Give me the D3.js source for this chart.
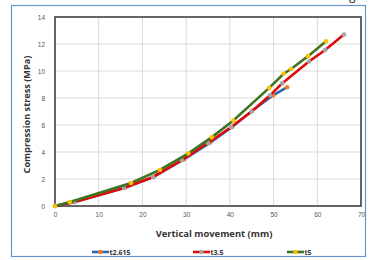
<!DOCTYPE html>
<html lang="en">
<head>
  <meta charset="UTF-8">
  <title>Compression stress vs vertical movement</title>
  <script src="https://d3js.org/d3.v7.min.js"></script>
  <style>
    body { margin: 0; background: #fff; }
    svg { display: block; font-family: "Open Sans", "Liberation Sans", sans-serif; }
  </style>
</head>
<body>
<script>
  // data
  var seriesNames = ["t2.615", "t3.5", "t5"];
  var xT2615 = [0, 4.5, 16, 22.5, 29.5, 35.5, 40.5, 45.1, 49.9, 53.1];
  var yT2615 = [0, 0.3, 1.35, 2.15, 3.45, 4.7, 5.85, 7.05, 8.2, 8.8];
  var xT35 = [0, 4.5, 15.8, 22.4, 29, 35, 40.3, 45, 49.2, 52, 58.1, 61.8, 66.1];
  var yT35 = [0, 0.3, 1.33, 2.15, 3.4, 4.67, 5.85, 7.0, 8.2, 9.1, 10.7, 11.55, 12.7];
  var xT5 = [0, 3.4, 17.4, 24, 30.5, 35.9, 40.8, 49, 52.3, 54, 57.9, 62];
  var yT5 = [0, 0.3, 1.7, 2.67, 3.9, 5.1, 6.33, 8.75, 9.8, 10.15, 11.1, 12.2];
  var xTicks = [0, 10, 20, 30, 40, 50, 60, 70];
  var yTicks = [0, 2, 4, 6, 8, 10, 12, 14];

  var lineColors = ["#2e68ad", "#e00a0a", "#3f7420"];
  var markColors = ["#ed7d31", "#a5a5a5", "#ffc000"];

  var series = [
    { name: seriesNames[0], pts: d3.zip(xT2615, yT2615) },
    { name: seriesNames[1], pts: d3.zip(xT35, yT35) },
    { name: seriesNames[2], pts: d3.zip(xT5, yT5) }
  ];

  var W = 374, H = 260;
  var svg = d3.select("body").append("svg").attr("width", W).attr("height", H);

  // outer frame
  svg.append("rect")
    .attr("x", 11.5).attr("y", 5.5).attr("width", 354).attr("height", 251)
    .attr("fill", "none").attr("stroke", "#6a96c8").attr("stroke-width", 1.2);

  // cut-off letter at top right
  svg.append("text").attr("x", 349).attr("y", 0)
    .attr("font-size", 12).attr("fill", "#222").text("g");

  var pL = 55, pR = 361, pT = 17, pB = 206;
  var x = d3.scaleLinear().domain([0, 70]).range([pL, pR]);
  var y = d3.scaleLinear().domain([0, 14]).range([pB, pT]);

  // grid
  svg.append("g").selectAll("line").data(xTicks.slice(1, -1)).enter().append("line")
    .attr("x1", d => x(d)).attr("x2", d => x(d)).attr("y1", pT).attr("y2", pB)
    .attr("stroke", "#d9d9d9").attr("stroke-width", 1);
  svg.append("g").selectAll("line").data(yTicks.slice(1, -1)).enter().append("line")
    .attr("x1", pL).attr("x2", pR).attr("y1", d => y(d)).attr("y2", d => y(d))
    .attr("stroke", "#d9d9d9").attr("stroke-width", 1);

  // axes
  var xAxis = svg.append("g").attr("transform", "translate(0," + pB + ")")
    .call(d3.axisBottom(x).tickValues(xTicks).tickSize(0).tickPadding(6));
  var yAxis = svg.append("g").attr("transform", "translate(" + pL + ",0)")
    .call(d3.axisLeft(y).tickValues(yTicks).tickSize(0).tickPadding(10));
  [xAxis, yAxis].forEach(function(a) {
    a.select(".domain").remove();
    a.selectAll("text").attr("font-size", 6.5).attr("fill", "#555");
  });

  // plot border
  svg.append("rect")
    .attr("x", pL).attr("y", pT).attr("width", pR - pL).attr("height", pB - pT)
    .attr("fill", "none").attr("stroke", "#333").attr("stroke-width", 1.5);

  // series
  var line = d3.line().x(d => x(d[0])).y(d => y(d[1]));
  series.forEach(function(s, i) {
    svg.append("path").datum(s.pts)
      .attr("d", line).attr("fill", "none")
      .attr("stroke", lineColors[i]).attr("stroke-width", 2.6);
    svg.append("g").selectAll("circle").data(s.pts).enter().append("circle")
      .attr("cx", d => x(d[0])).attr("cy", d => y(d[1])).attr("r", 2.3)
      .attr("fill", markColors[i]);
  });

  // axis titles
  svg.append("text").attr("x", 214).attr("y", 237)
    .attr("text-anchor", "middle").attr("font-size", 9.4).attr("font-weight", "bold")
    .attr("fill", "#333").text("Vertical movement (mm)");
  svg.append("text")
    .attr("transform", "translate(30," + ((pT + pB) / 2 + 3) + ") rotate(-90)")
    .attr("text-anchor", "middle").attr("font-size", 9.2).attr("font-weight", "bold")
    .attr("fill", "#333").text("Compression stress (MPa)");

  // legend
  var legX = [92, 193, 287];
  series.forEach(function(s, i) {
    var g = svg.append("g").attr("transform", "translate(" + legX[i] + ",252)");
    g.append("line").attr("x1", 0).attr("x2", 17).attr("y1", 0).attr("y2", 0)
      .attr("stroke", lineColors[i]).attr("stroke-width", 2.6);
    g.append("circle").attr("cx", 8.5).attr("cy", 0).attr("r", 2.3).attr("fill", markColors[i]);
    g.append("text").attr("x", 17.5).attr("y", 2.6)
      .attr("font-size", 7).attr("font-weight", "bold").attr("fill", "#333").text(s.name);
  });
</script>
</body>
</html>
